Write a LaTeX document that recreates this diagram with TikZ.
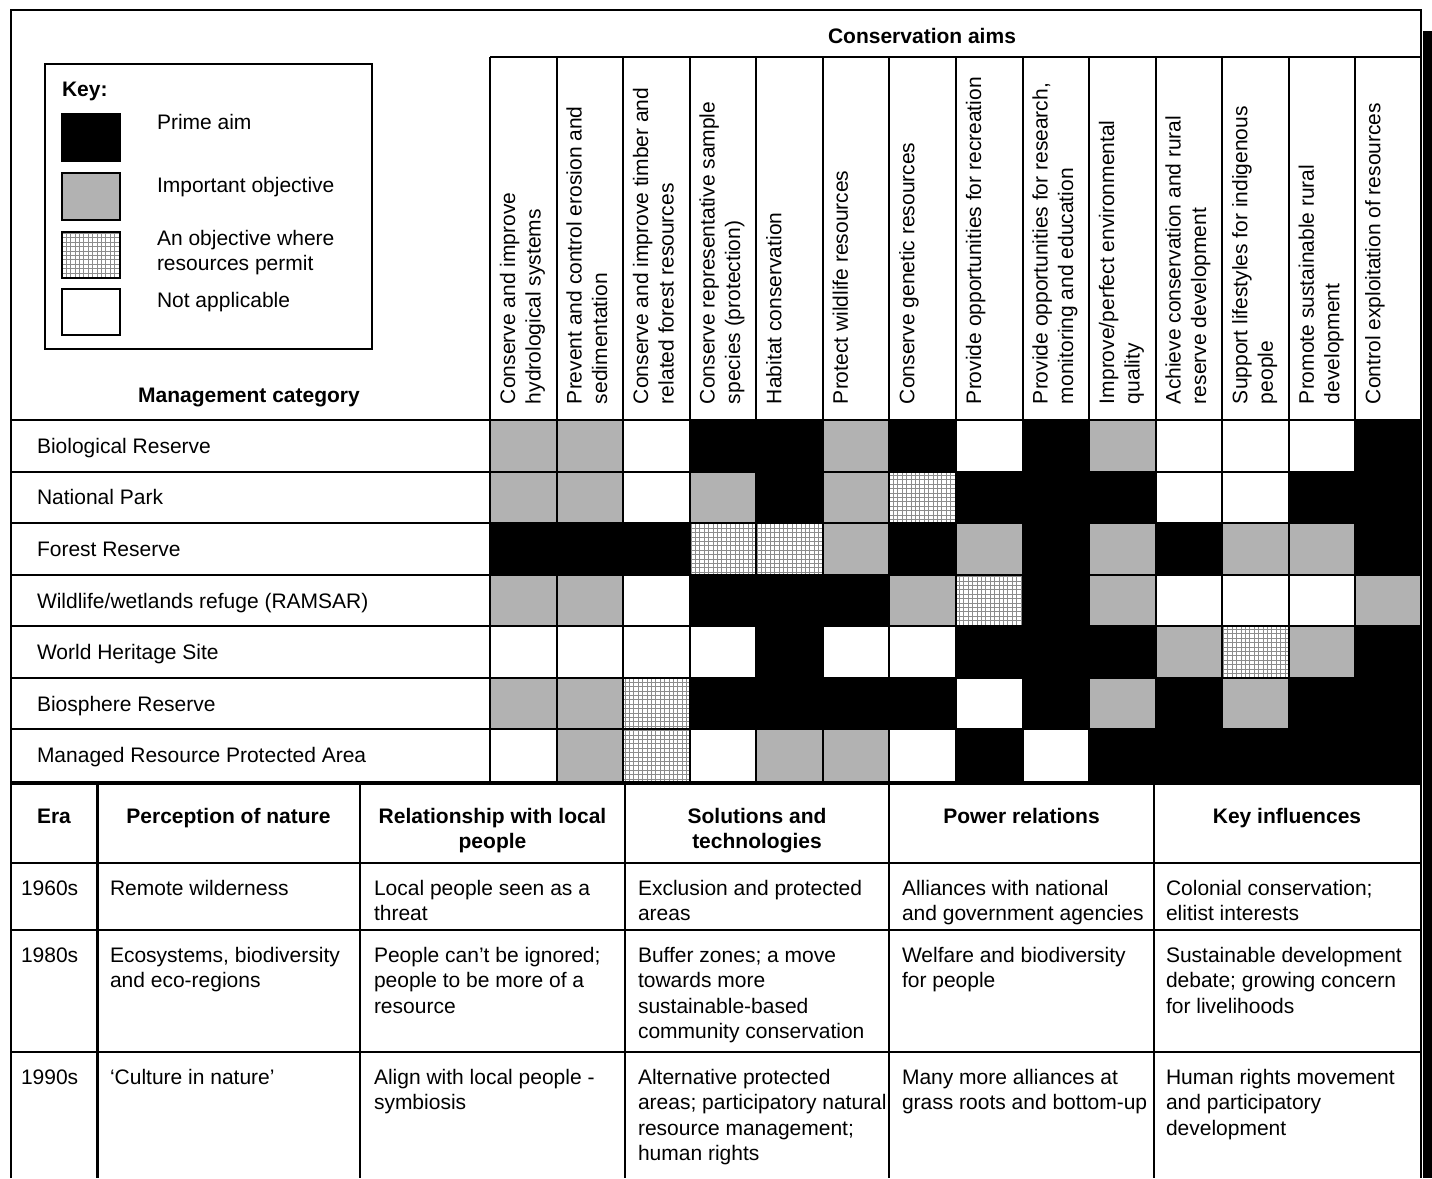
\documentclass[tikz,border=0pt]{standalone}
\usepackage{fontspec}
\setmainfont{Liberation Sans}
% invisible strut that fixes the height of a node's first line
\newcommand\firstln{\rule{0pt}{16pt}}
\definecolor{fcB}{gray}{0}
\definecolor{fcG}{gray}{0.70}
\definecolor{fcW}{gray}{1}
\definecolor{fcH}{gray}{1}
\begin{document}
\begin{tikzpicture}[x=1pt,y=-1pt,
  txt/.style={inner sep=0pt, outer sep=0pt, font=\fontsize{21}{25.5}\selectfont},
  btxt/.style={txt, font=\fontsize{21}{25.5}\selectfont\bfseries},
  hdr/.style={txt, rotate=90, anchor=north west, align=left},
  cellnote/.style={txt, anchor=north west, align=left},
  colhead/.style={btxt, anchor=north, align=center},
  rule/.style={line width=2pt},
  thinrule/.style={line width=1.5pt},
  thickrule/.style={line width=2.6pt},
  heavyrule/.style={line width=4pt},
  hatch/.style={draw=black!45, line width=0.6pt},
]
\useasboundingbox (0,0) rectangle (1432,1178);
\fill[white] (0,0) rectangle (1432,1178);

% ---------- matrix cells: B prime aim, G important, H where resources permit, W not applicable
\foreach \rw/\cells in {
  0/{G,G,W,B,B,G,B,W,B,G,W,W,W,B},
  1/{G,G,W,G,B,G,H,B,B,B,W,W,B,B},
  2/{B,B,B,H,H,G,B,G,B,G,B,G,G,B},
  3/{G,G,W,B,B,B,G,H,B,G,W,W,W,G},
  4/{W,W,W,W,B,W,W,B,B,B,G,H,G,B},
  5/{G,G,H,B,B,B,B,W,B,G,B,G,B,B},
  6/{W,G,H,W,G,G,W,B,W,B,B,B,B,B}}{
  \foreach \cv [count=\ci from 0] in \cells {
    \pgfmathsetmacro\xa{490+\ci*66.571}
    \pgfmathsetmacro\xb{490+(\ci+1)*66.571}
    \pgfmathsetmacro\ya{420+\rw*51.571}
    \pgfmathsetmacro\yb{420+(\rw+1)*51.571}
    \fill[fill=fc\cv] (\xa,\ya) rectangle (\xb,\yb);
    \if\cv H
      \begin{scope}
        \clip (\xa,\ya) rectangle (\xb,\yb);
        \draw[hatch] (\xa,\yb) grid[step=4.4pt] (\xb,\ya);
      \end{scope}
    \fi
  }
}

% ---------- grid lines of the upper table
\draw[rule] (490,57) -- (1421,57);
\foreach \j in {0,...,6}
  \draw[rule] (11,{420+\j*51.571}) -- (1421,{420+\j*51.571});
\foreach \ci in {0,...,13}
  \draw[rule] ({490+\ci*66.571},57) -- ({490+\ci*66.571},781);

% ---------- lower table lines
\draw[heavyrule] (11,783) -- (1421,783);
\draw[thickrule] (11,863) -- (1421,863);
\draw[thinrule] (11,930) -- (1421,930);
\draw[thinrule] (11,1052) -- (1421,1052);
\draw[thickrule] (97.5,783) -- (97.5,1178);
\foreach \xv in {360,625,889,1154}
  \draw[thinrule] (\xv,783) -- (\xv,1178);

% ---------- outer frame and its shadow bar
\draw[rule, line join=miter] (11,1178) -- (11,10) -- (1421,10) -- (1421,1178);
\fill[black] (1423,31) rectangle (1432,1178);

% ---------- key
\draw[rule] (45,64) rectangle (372,349);
\node[btxt, anchor=north west] (keyhead) at (62,80) {\firstln Key:};
\draw[rule, fill=black] (62,114) rectangle (120,161);
\draw[rule, fill=fcG] (62,173) rectangle (120,220);
\begin{scope}
  \clip (62,232) rectangle (120,278);
  \draw[hatch] (60,280) grid[step=4.4pt] (122,230);
\end{scope}
\draw[rule] (62,232) rectangle (120,278);
\draw[rule] (62,289) rectangle (120,335);
\node[txt, anchor=north west] (kprime) at (157,113) {\firstln Prime aim};
\node[txt, anchor=north west] (kimp) at (157,176) {\firstln Important objective};
\node[txt, anchor=north west, align=left] (kperm) at (157,229) {\firstln An objective where\\resources permit};
\node[txt, anchor=north west] (kna) at (157,291) {\firstln Not applicable};

\node[btxt, anchor=base] (mgmt) at (249,402) {Management category};
\node[btxt, anchor=base] (aims) at (922,43) {Conservation aims};

% ---------- rotated column headings
\foreach \ci/\t in {
  1/{Conserve and improve\\hydrological systems},
  2/{Prevent and control erosion and\\sedimentation},
  3/{Conserve and improve timber and\\related forest resources},
  4/{Conserve representative sample\\species (protection)},
  5/{Habitat conservation},
  6/{Protect wildlife resources},
  7/{Conserve genetic resources},
  8/{Provide opportunities for recreation},
  9/{Provide opportunities for research,\\monitoring and education},
  10/{Improve/perfect environmental\\quality},
  11/{Achieve conservation and rural\\reserve development},
  12/{Support lifestyles for indigenous\\people},
  13/{Promote sustainable rural\\development},
  14/{Control exploitation of resources}}
  \node[hdr] (h\ci) at ({490+(\ci-1)*66.571+9},404) {\firstln\t};

% ---------- management categories
\foreach \j/\t in {
  1/{Biological Reserve},
  2/{National Park},
  3/{Forest Reserve},
  4/{Wildlife/wetlands refuge (RAMSAR)},
  5/{World Heritage Site},
  6/{Biosphere Reserve},
  7/{Managed Resource Protected Area}}
  \node[txt, anchor=base west] (m\j) at (37,{420+(\j-0.5)*51.571+7.5}) {\t};

% ---------- lower table headings
\node[colhead] (era) at (54,807) {\firstln Era};
\node[colhead] (perc) at (228.5,807) {\firstln Perception of nature};
\node[colhead] (rel) at (492.5,807) {\firstln Relationship with local\\people};
\node[colhead] (sol) at (757,807) {\firstln Solutions and\\technologies};
\node[colhead] (pow) at (1021.5,807) {\firstln Power relations};
\node[colhead] (infl) at (1287,807) {\firstln Key influences};

% ---------- 1960s
\node[cellnote] (e60) at (21,879) {\firstln 1960s};
\node[cellnote] (p60) at (110,879) {\firstln Remote wilderness};
\node[cellnote] (r60) at (374,879) {\firstln Local people seen as a\\threat};
\node[cellnote] (s60) at (638,879) {\firstln Exclusion and protected\\areas};
\node[cellnote] (w60) at (902,879) {\firstln Alliances with national\\and government agencies};
\node[cellnote] (k60) at (1166,879) {\firstln Colonial conservation;\\elitist interests};

% ---------- 1980s
\node[cellnote] (e80) at (21,946) {\firstln 1980s};
\node[cellnote] (p80) at (110,946) {\firstln Ecosystems, biodiversity\\and eco-regions};
\node[cellnote] (r80) at (374,946) {\firstln People can’t be ignored;\\people to be more of a\\resource};
\node[cellnote] (s80) at (638,946) {\firstln Buffer zones; a move\\towards more\\sustainable-based\\community conservation};
\node[cellnote] (w80) at (902,946) {\firstln Welfare and biodiversity\\for people};
\node[cellnote] (k80) at (1166,946) {\firstln Sustainable development\\debate; growing concern\\for livelihoods};

% ---------- 1990s
\node[cellnote] (e90) at (21,1068) {\firstln 1990s};
\node[cellnote] (p90) at (110,1068) {\firstln ‘Culture in nature’};
\node[cellnote] (r90) at (374,1068) {\firstln Align with local people -\\symbiosis};
\node[cellnote] (s90) at (638,1068) {\firstln Alternative protected\\areas; participatory natural\\resource management;\\human rights};
\node[cellnote] (w90) at (902,1068) {\firstln Many more alliances at\\grass roots and bottom-up};
\node[cellnote] (k90) at (1166,1068) {\firstln Human rights movement\\and participatory\\development};
\end{tikzpicture}
\end{document}
